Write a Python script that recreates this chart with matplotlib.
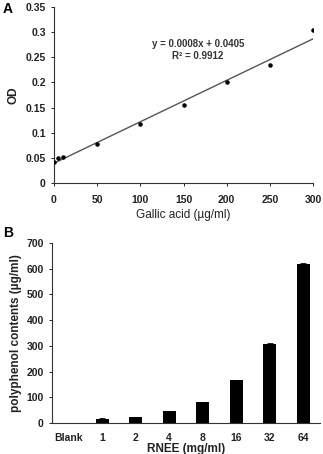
import numpy as np
import matplotlib
matplotlib.use('Agg')
import matplotlib.pyplot as plt

plt.rcParams['font.family'] = ['Liberation Sans', 'DejaVu Sans']

# Panel A: gallic acid standard curve
gallic = [0, 5, 10, 50, 100, 150, 200, 250, 300]
od = [0.042, 0.050, 0.052, 0.077, 0.117, 0.155, 0.200, 0.235, 0.304]
a_xticks = [0, 50, 100, 150, 200, 250, 300]
a_yticks = [0, 0.05, 0.1, 0.15, 0.2, 0.25, 0.3, 0.35]
a_ylabels = ['0', '0.05', '0.1', '0.15', '0.2', '0.25', '0.3', '0.35']

# Panel B: polyphenol contents
conc = ['Blank', '1', '2', '4', '8', '16', '32', '64']
poly = [0, 17, 23, 45, 80, 167, 307, 620]
poly_err = [0, 2, 2, 2, 2, 2, 3, 3]
b_yticks = [0, 100, 200, 300, 400, 500, 600, 700]

fig = plt.figure(figsize=(3.23, 4.54), dpi=100)
W, H = 323., 454.

# ---- A ----
axA = fig.add_axes([54/W, 1 - 183/H, (313-54)/W, (183-7)/H])
axA.scatter(gallic, od, s=5, color='black', zorder=3)
slope, icpt = np.polyfit(gallic, od, 1)
xx = np.array([0, 300])
axA.plot(xx, slope*xx + icpt, color='#555555', lw=1.0)
axA.set_xlim(0, 300)
axA.set_ylim(0, 0.35)
axA.set_xticks(a_xticks)
axA.set_yticks(a_yticks)
axA.set_yticklabels(a_ylabels)
for s in ['top', 'right']:
    axA.spines[s].set_visible(False)
for s in ['left', 'bottom']:
    axA.spines[s].set_color('#333333')
    axA.spines[s].set_linewidth(0.8)
axA.tick_params(labelsize=7.5, length=2.5, width=0.7, colors='#222222')
axA.tick_params(axis='x', pad=6)
for lab in axA.get_xticklabels() + axA.get_yticklabels():
    lab.set_fontweight('bold')
axA.set_xlabel('Gallic acid (\u00b5g/ml)', fontsize=8.5, labelpad=3, color='#222222')
axA.set_ylabel('OD', fontsize=8.5, fontweight='bold', labelpad=4, color='#222222')
axA.text(167, 0.264, 'y = 0.0008x + 0.0405\nR\u00b2 = 0.9912', ha='center', va='center',
         fontsize=7, fontweight='bold', color='#333333', linespacing=1.2)
fig.text(3/W, 1 - 9/H, 'A', fontsize=10, fontweight='bold', va='center')

# ---- B ----
axB = fig.add_axes([52/W, 1 - 423/H, (320-52)/W, (423-243)/H])
xpos = np.arange(len(conc))
axB.bar(xpos, poly, width=0.4, color='black', yerr=poly_err,
        error_kw=dict(ecolor='black', elinewidth=0.6, capsize=2.5, capthick=0.6))
axB.set_xlim(-0.5, len(conc) - 0.5)
axB.set_ylim(0, 700)
axB.set_xticks(xpos)
axB.set_xticklabels(conc)
axB.set_yticks(b_yticks)
for s in ['top', 'right']:
    axB.spines[s].set_visible(False)
for s in ['left', 'bottom']:
    axB.spines[s].set_color('#333333')
    axB.spines[s].set_linewidth(0.8)
axB.tick_params(axis='y', labelsize=7.5, length=2.5, width=0.7, colors='#222222')
axB.tick_params(axis='x', labelsize=7.5, length=0, pad=7, colors='#222222')
for lab in axB.get_xticklabels() + axB.get_yticklabels():
    lab.set_fontweight('bold')
axB.set_xlabel('RNEE (mg/ml)', fontsize=8.5, fontweight='bold', labelpad=0, color='#222222')
axB.set_ylabel('polyphenol contents (\u00b5g/ml)', fontsize=8.5, fontweight='bold',
               labelpad=3, color='#222222')
fig.text(3/W, 1 - 233/H, 'B', fontsize=10, fontweight='bold', va='center')

fig.savefig('out.png', dpi=100)
